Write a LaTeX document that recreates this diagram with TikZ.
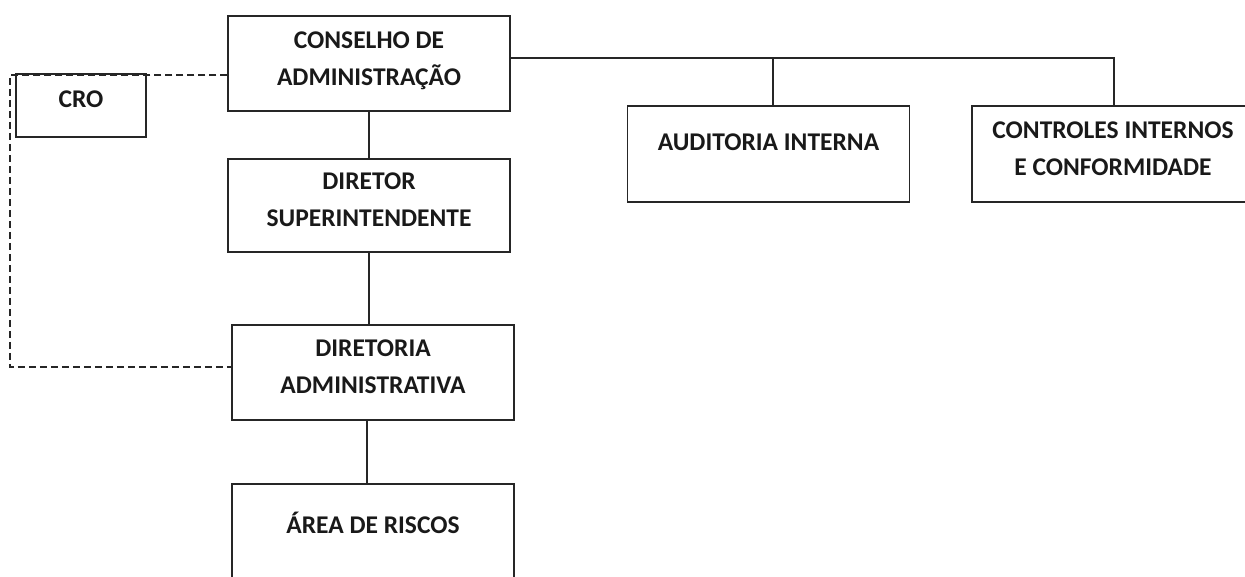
\documentclass[tikz,border=0pt]{standalone}
\usepackage{fontspec}
\setmainfont{Carlito}
\usepackage{tikz}

\begin{document}
\begin{tikzpicture}[x=1pt,y=-1pt,
		box/.style={draw=black!85,line width=1.5pt,minimum width=282pt,minimum height=95pt,inner sep=0pt},
		txt/.style={align=center,font=\fontsize{25.5}{37}\selectfont\bfseries,inner sep=0pt,text=black!90},
		link/.style={draw=black!85,line width=1.4pt},
		dashlink/.style={draw=black!85,line width=1.3pt,dash pattern=on 7pt off 4pt}]
				\useasboundingbox (0,0) rectangle (1245,576);
				% boxes
				\node[box] (cons) at (369,63.5) {};
				\node[box,minimum width=130pt,minimum height=63pt] (cro) at (81,105.5) {};
				\node[box,minimum height=93pt] (dir) at (369,205.5) {};
				\node[box] (dadm) at (373,372.5) {};
				\node[box] (area) at (373,531.5) {};
				\node[box,minimum height=96pt] (aud) at (768.5,154) {};
				\node[box,minimum height=96pt] (ctl) at (1113,154) {};
				% texts
				\node[txt,yshift=2.5pt] (consT) at (cons) {CONSELHO DE\\ADMINISTRAÇÃO};
				\node[txt,yshift=6pt] (croT) at (cro) {CRO};
				\node[txt,yshift=5.5pt] (dirT) at (dir) {DIRETOR\\SUPERINTENDENTE};
				\node[txt,yshift=5.5pt] (dadmT) at (dadm) {DIRETORIA\\ADMINISTRATIVA};
				\node[txt,yshift=9pt] (areaT) at (area) {ÁREA DE RISCOS};
				\node[txt,yshift=11.5pt] (audT) at (aud) {AUDITORIA INTERNA};
				\node[txt,yshift=5pt] (ctlT) at (ctl) {CONTROLES INTERNOS\\E CONFORMIDADE};
				% connectors
				\coordinate (jA) at (773,58);
				\coordinate (jR) at (1114,58);
				\coordinate (jD) at (367,420);
				\coordinate (dTop) at (10,75);
				\coordinate (dBot) at (10,367);
				\draw[link] (cons.south) -- (dir.north);
				\draw[link] (dir.south) -- (dir.south |- dadm.north);
				\draw[link] (jD |- dadm.south) -- (jD |- area.north);
				\draw[link] (cons.east |- jR) -- (jR) -- (jR |- ctl.north);
				\draw[link] (jA) -- (jA |- aud.north);
				\draw[dashlink] (cons.west |- dTop) -- (dTop) -- (dBot) -- (dBot -| dadm.west);
\end{tikzpicture}
\end{document}
